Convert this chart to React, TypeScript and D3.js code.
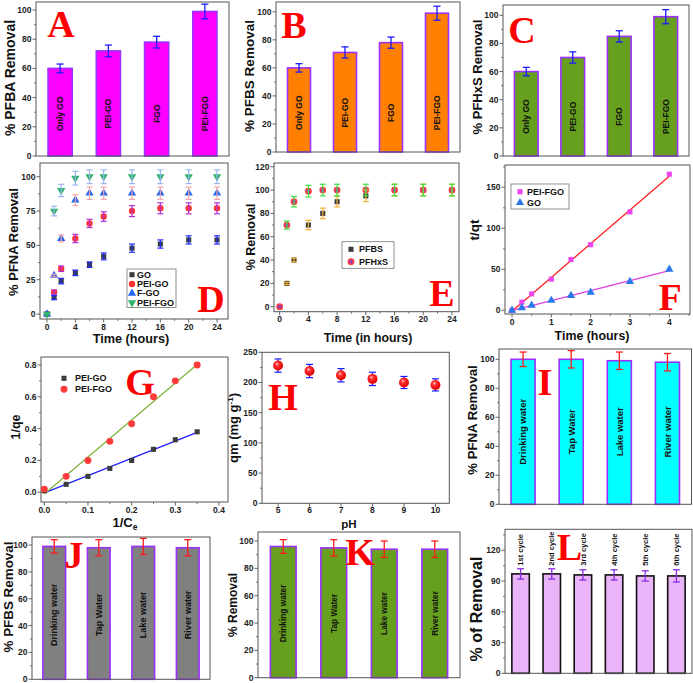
import React from "react";
import * as d3 from "d3";

const SANS = "'Liberation Sans', Arial, Helvetica, sans-serif";
const SERIF = "'Liberation Serif', 'Times New Roman', Times, serif";
const AXIS = "#555555";

// ---------- Panels A–C ----------
const adsorbents = ["Only GO", "PEI-GO", "FGO", "PEI-FGO"];
const pfbaRemoval = [60, 72, 78, 99];
const pfbaError = [3, 4, 4, 5];
const pfbsRemoval = [60, 71, 78, 99];
const pfbsError = [3, 4, 4, 5];
const pfhxsRemoval = [60, 70, 85, 99];
const pfhxsError = [3, 4, 4, 5];

// ---------- Panel D ----------
const timeHours = [0, 1, 2, 4, 6, 8, 12, 16, 20, 24];
const dGO = [0, 12, 24, 30, 36, 42, 48, 51, 54, 54];
const dGOErr = [0, 1.5, 2, 2, 2, 2.5, 3, 3, 3, 3];
const dPEIGO = [0, 16, 33, 55, 66, 71, 75, 77, 77, 77];
const dPEIGOErr = [0, 1.5, 2, 3, 3, 3.5, 4, 4, 4, 4];
const dFGO = [0, 28, 55, 83, 88, 88, 88, 88, 88, 88];
const dFGOErr = [0, 1, 2.5, 4, 4.5, 4.5, 4.5, 4.5, 4.5, 4.5];
const dPEIFGO = [0, 75, 90, 99, 100, 100, 100, 100, 100, 100];
const dPEIFGOErr = [0, 3.5, 4.5, 5, 5, 5, 5, 5, 5, 5];

// ---------- Panel E ----------
const ePFBS = [0, 20, 40, 70, 80, 90, 95, 100, 100, 100];
const ePFBSErr = [0, 1, 1.5, 4, 4.5, 4.5, 5, 5, 5, 5];
const ePFHxS = [0, 70, 90, 99, 100, 100, 100, 100, 100, 100];
const ePFHxSErr = [0, 3.5, 4.5, 5, 5, 5, 5, 5, 5, 5];

// ---------- Panel F ----------
const timeF = [0, 0.25, 0.5, 1, 1.5, 2, 3, 4];
const fPEIFGO = [0, 10, 20, 38, 62, 80, 120, 166];
const fGO = [0, 3, 6, 12, 18, 22, 35, 50];

// ---------- Panel G ----------
const invCe = [0, 0.05, 0.1, 0.15, 0.2, 0.25, 0.3, 0.35];
const gPEIGO = [0.01, 0.05, 0.1, 0.15, 0.2, 0.27, 0.33, 0.38];
const gPEIFGO = [0.02, 0.1, 0.2, 0.32, 0.43, 0.6, 0.7, 0.8];

// ---------- Panel H ----------
const pH = [5, 6, 7, 8, 9, 10];
const qm = [228, 219, 212, 206, 200, 196];
const qmErr = [11, 11, 11, 11, 10, 10];

// ---------- Panels I–K ----------
const waters = ["Drinking water", "Tap Water", "Lake water", "River water"];
const iPFNA = [100, 100, 99, 98];
const iPFNAErr = [5, 6, 6, 6];
const jPFBS = [99, 98, 99, 98];
const jPFBSErr = [5, 6, 6, 6];
const kRemoval = [96, 95, 94, 94];
const kRemovalErr = [5, 6, 6, 6];

// ---------- Panel L ----------
const cycles = ["1st cycle", "2nd cycle", "3rd cycle", "4th cycle", "5th cycle", "6th cycle"];
const lRemoval = [97, 97, 96, 96, 95, 95];
const lRemovalErr = [5, 5, 5, 5, 5, 6];

type Box = { x0: number; y0: number; x1: number; y1: number };

function Frame({ b }: { b: Box }) {
  return (
    <rect x={b.x0} y={b.y0} width={b.x1 - b.x0} height={b.y1 - b.y0} fill="none" stroke={AXIS} strokeWidth={1} />
  );
}

function YAxis({ y, x0, major, minor, fmt, fs = 8.5 }: any) {
  return (
    <g>
      {minor.map((v: number, i: number) => (
        <line key={"m" + i} x1={x0} x2={x0 - 2} y1={y(v)} y2={y(v)} stroke={AXIS} strokeWidth={0.8} />
      ))}
      {major.map((v: number, i: number) => (
        <g key={"M" + i}>
          <line x1={x0} x2={x0 - 3.5} y1={y(v)} y2={y(v)} stroke={AXIS} strokeWidth={0.9} />
          <text x={x0 - 4.5} y={y(v)} dy="0.35em" textAnchor="end" fontSize={fs} fontWeight="bold" fontFamily={SANS} fill="#222">
            {fmt(v)}
          </text>
        </g>
      ))}
    </g>
  );
}

function XAxis({ x, y1, major, minor, fmt, fs = 8.5, off = 10.5 }: any) {
  return (
    <g>
      {minor.map((v: number, i: number) => (
        <line key={"m" + i} x1={x(v)} x2={x(v)} y1={y1} y2={y1 + 2} stroke={AXIS} strokeWidth={0.8} />
      ))}
      {major.map((v: number, i: number) => (
        <g key={"M" + i}>
          <line x1={x(v)} x2={x(v)} y1={y1} y2={y1 + 3.5} stroke={AXIS} strokeWidth={0.9} />
          <text x={x(v)} y={y1 + off} textAnchor="middle" fontSize={fs} fontWeight="bold" fontFamily={SANS} fill="#222">
            {fmt(v)}
          </text>
        </g>
      ))}
    </g>
  );
}

function ErrBar({ cx, yTop, yBot, w, color, sw = 1.2 }: any) {
  return (
    <g stroke={color} strokeWidth={sw}>
      <line x1={cx} x2={cx} y1={yTop} y2={yBot} />
      <line x1={cx - w} x2={cx + w} y1={yTop} y2={yTop} />
      <line x1={cx - w} x2={cx + w} y1={yBot} y2={yBot} />
    </g>
  );
}

function Letter({ t, x, y, fs = 38 }: any) {
  return (
    <text x={x} y={y} textAnchor="middle" fontFamily={SERIF} fontWeight="bold" fontSize={fs} fill="#ff0000">
      {t}
    </text>
  );
}

function YTitle({ x, y, fs, children }: any) {
  return (
    <text transform={`translate(${x},${y}) rotate(-90)`} textAnchor="middle" fontFamily={SANS} fontWeight="bold" fontSize={fs} fill="#111">
      {children}
    </text>
  );
}

function XTitle({ x, y, fs, children }: any) {
  return (
    <text x={x} y={y} textAnchor="middle" fontFamily={SANS} fontWeight="bold" fontSize={fs} fill="#111">
      {children}
    </text>
  );
}

function BarPanel(p: any) {
  const { b, cats, vals, errs, yMax, major, minor, fill, stroke, errColor, pad } = p;
  const x = d3.scaleBand<string>().domain(cats).range([b.x0, b.x1]).paddingInner(pad).paddingOuter(pad / 2);
  const y = d3.scaleLinear().domain([0, yMax]).range([b.y1, b.y0]);
  const bw = x.bandwidth();
  return (
    <g>
      {cats.map((c: string, i: number) => (
        <rect key={"b" + i} x={x(c)} y={y(vals[i])} width={bw} height={y(0) - y(vals[i])} fill={fill} stroke={stroke} strokeWidth={1.6} />
      ))}
      {cats.map((c: string, i: number) => {
        const cx = (x(c) as number) + bw / 2;
        return (
          <text key={"t" + i} transform={`translate(${cx},${y(p.labelAt)}) rotate(-90)`} dy="0.35em"
            textAnchor={p.labelMode === "above" ? "start" : "middle"} fontFamily={SANS} fontWeight="bold" fontSize={p.labelFs} fill="#111">
            {c}
          </text>
        );
      })}
      {cats.map((c: string, i: number) => (
        <ErrBar key={"e" + i} cx={(x(c) as number) + bw / 2} yTop={y(vals[i] + errs[i])} yBot={y(vals[i] - errs[i])} w={3.5} color={errColor} sw={1.3} />
      ))}
      <Frame b={b} />
      <YAxis y={y} x0={b.x0} major={major} minor={minor} fmt={(v: number) => String(v)} />
    </g>
  );
}

function Marker({ shape, size, fill, center, x, y, gradId }: any) {
  if (shape === "sphere") {
    return <circle cx={x} cy={y} r={size} fill={`url(#${gradId})`} />;
  }
  const t =
    shape === "square" ? d3.symbolSquare : shape === "circle" ? d3.symbolCircle : d3.symbolTriangle;
  const path = d3.symbol().type(t).size(size)() as string;
  const rot = shape === "triDown" ? " rotate(180)" : "";
  return (
    <g transform={`translate(${x},${y})${rot}`}>
      <path d={path} fill={fill} />
      {center ? <rect x={-1.6} y={-1.6} width={3.2} height={3.2} fill={center} /> : null}
    </g>
  );
}

function linFit(xs: number[], ys: number[]) {
  const mx = d3.mean(xs) as number;
  const my = d3.mean(ys) as number;
  const sxy = d3.sum(xs, (v, i) => (v - mx) * (ys[i] - my));
  const sxx = d3.sum(xs, (v) => (v - mx) * (v - mx));
  const m = sxy / sxx;
  return [m, my - m * mx];
}

function ScatterPanel(p: any) {
  const { b, xDom, yDom, series } = p;
  const x = d3.scaleLinear().domain(xDom).range([b.x0, b.x1]);
  const y = d3.scaleLinear().domain(yDom).range([b.y1, b.y0]);
  const errEls = series.flatMap((s: any, si: number) =>
    s.errs
      ? s.xs.map((xv: number, i: number) =>
          s.errs[i] > 0 ? (
            <ErrBar key={`e${si}-${i}`} cx={x(xv)} yTop={y(s.ys[i] + s.errs[i])} yBot={y(s.ys[i] - s.errs[i])} w={p.capW} color={s.errColor} sw={1.2} />
          ) : null
        )
      : []
  );
  const markEls = series.flatMap((s: any, si: number) =>
    s.xs.map((xv: number, i: number) => (
      <Marker key={`m${si}-${i}`} shape={s.shape} size={s.size} fill={s.fill} center={s.center} x={x(xv)} y={y(s.ys[i])} gradId={p.gradId} />
    ))
  );
  const fitEls = series
    .filter((s: any) => s.fit)
    .map((s: any, i: number) => {
      const [m, c] = linFit(s.xs, s.ys);
      const xa = d3.min(s.xs) as number;
      const xb = d3.max(s.xs) as number;
      return <line key={"f" + i} x1={x(xa)} y1={y(m * xa + c)} x2={x(xb)} y2={y(m * xb + c)} stroke={s.fit} strokeWidth={1.3} />;
    });
  const lg = p.legend;
  return (
    <g>
      <Frame b={b} />
      <XAxis x={x} y1={b.y1} major={p.xMajor} minor={p.xMinor} fmt={p.xFmt} off={p.xOff ?? 10.5} />
      <YAxis y={y} x0={b.x0} major={p.yMajor} minor={p.yMinor} fmt={p.yFmt} />
      {fitEls}
      {p.errOnTop ? null : errEls}
      {markEls}
      {p.errOnTop ? errEls : null}
      {lg ? (
        <g>
          {lg.box ? <rect x={lg.box[0]} y={lg.box[1]} width={lg.box[2] - lg.box[0]} height={lg.box[3] - lg.box[1]} fill="white" stroke="#777" strokeWidth={0.8} /> : null}
          {series.map((s: any, i: number) => (
            <g key={"l" + i}>
              <Marker shape={s.shape} size={s.size} fill={s.fill} center={s.center} x={lg.mx} y={lg.ys[i]} gradId={p.gradId} />
              <text x={lg.tx} y={lg.ys[i]} dy="0.35em" fontFamily={SANS} fontWeight="bold" fontSize={9} fill="#111">
                {s.label}
              </text>
            </g>
          ))}
        </g>
      ) : null}
    </g>
  );
}

const fmtInt = (v: number) => String(v);
const fmt1 = d3.format(".1f");

export default function App() {
  return (
    <svg width={693} height={683} style={{ position: "absolute", left: 0, top: 0, background: "#fff" }} xmlns="http://www.w3.org/2000/svg">
      <defs>
        <radialGradient id="sph" cx="40%" cy="35%" r="65%">
          <stop offset="0%" stopColor="#ffd0d0" />
          <stop offset="30%" stopColor="#ff3030" />
          <stop offset="100%" stopColor="#e00000" />
        </radialGradient>
      </defs>
      <rect x={0} y={0} width={693} height={683} fill="#fff" />

      {/* A */}
      <BarPanel b={{ x0: 36, y0: 2, x1: 229, y1: 156 }} cats={adsorbents} vals={pfbaRemoval} errs={pfbaError} yMax={105.5}
        major={d3.range(0, 101, 20)} minor={d3.range(10, 101, 20)} fill="#ff00ff" stroke="#9b30ff" errColor="#1a1aff" pad={0.5}
        labelAt={29} labelFs={8.5} />
      <YTitle x={15} y={78} fs={14}>% PFBA Removal</YTitle>
      <Letter t="A" x={61} y={37} />

      {/* B */}
      <BarPanel b={{ x0: 276, y0: 2, x1: 460, y1: 152 }} cats={adsorbents} vals={pfbsRemoval} errs={pfbsError} yMax={107}
        major={d3.range(0, 101, 20)} minor={d3.range(10, 101, 20)} fill="#ff8000" stroke="#9b30ff" errColor="#1a1aff" pad={0.5}
        labelAt={28} labelFs={8.5} />
      <YTitle x={254} y={76} fs={13.5}>% PFBS Removal</YTitle>
      <Letter t="B" x={294} y={38} />

      {/* C */}
      <BarPanel b={{ x0: 503, y0: 5, x1: 689, y1: 156 }} cats={adsorbents} vals={pfhxsRemoval} errs={pfhxsError} yMax={107.3}
        major={d3.range(0, 101, 20)} minor={d3.range(10, 101, 20)} fill="#66a01e" stroke="#9b30ff" errColor="#1a1aff" pad={0.49}
        labelAt={28} labelFs={8.5} />
      <YTitle x={482} y={77} fs={13}>% PFHxS Removal</YTitle>
      <Letter t="C" x={522} y={43} />

      {/* D */}
      <ScatterPanel b={{ x0: 40, y0: 163, x1: 228, y1: 319 }} xDom={[-0.99, 25.55]} yDom={[-3.6, 110]}
        xMajor={d3.range(0, 25, 4)} xMinor={d3.range(2, 25, 4)} yMajor={d3.range(0, 101, 25)} yMinor={d3.range(12.5, 110, 25)}
        xFmt={fmtInt} yFmt={fmtInt} capW={3} errOnTop={true}
        series={[
          { label: "GO", xs: timeHours, ys: dGO, errs: dGOErr, shape: "square", size: 26, fill: "#3a3a3a", errColor: "#1f2bff" },
          { label: "PEI-GO", xs: timeHours, ys: dPEIGO, errs: dPEIGOErr, shape: "circle", size: 32, fill: "#ff3535", errColor: "#b030d8" },
          { label: "F-GO", xs: timeHours, ys: dFGO, errs: dFGOErr, shape: "triUp", size: 30, fill: "#2566f0", errColor: "#f4a4aa" },
          { label: "PEI-FGO", xs: timeHours, ys: dPEIFGO, errs: dPEIFGOErr, shape: "triDown", size: 30, fill: "#2fb36c", errColor: "#9cb4f4" },
        ]}
        legend={{ box: [127, 269, 176, 307.5], ys: [274.7, 284, 293.3, 302.7], mx: 132, tx: 137 }} />
      <YTitle x={18} y={242} fs={13}>% PFNA Removal</YTitle>
      <XTitle x={131} y={342.5} fs={12.7}>Time (hours)</XTitle>
      <Letter t="D" x={211} y={312} />

      {/* E */}
      <ScatterPanel b={{ x0: 274, y0: 163, x1: 459, y1: 311.7 }} xDom={[-0.79, 24.98]} yDom={[-4.3, 123.2]}
        xMajor={d3.range(0, 25, 4)} xMinor={d3.range(2, 25, 4)} yMajor={d3.range(0, 121, 20)} yMinor={d3.range(10, 121, 20)}
        xFmt={fmtInt} yFmt={fmtInt} capW={3} errOnTop={true}
        series={[
          { label: "PFBS", xs: timeHours, ys: ePFBS, errs: ePFBSErr, shape: "square", size: 26, fill: "#3c3c3c", errColor: "#f2b133" },
          { label: "PFHxS", xs: timeHours, ys: ePFHxS, errs: ePFHxSErr, shape: "circle", size: 36, fill: "#ff3b3b", errColor: "#3ee03e", center: "#9040c0" },
        ]}
        legend={{ box: [342, 241.7, 394, 268.3], ys: [249.3, 261.7], mx: 351, tx: 359 }} />
      <YTitle x={255} y={237} fs={12.5}>% Removal</YTitle>
      <XTitle x={368} y={341.7} fs={12.3}>Time (in hours)</XTitle>
      <Letter t="E" x={442} y={306} />

      {/* F */}
      <ScatterPanel b={{ x0: 505, y0: 165, x1: 690, y1: 314 }} xDom={[-0.178, 4.526]} yDom={[-4.5, 177.2]}
        xMajor={d3.range(0, 5, 1)} xMinor={d3.range(0.5, 4.6, 1)} yMajor={d3.range(0, 151, 50)} yMinor={d3.range(25, 176, 50)}
        xFmt={fmtInt} yFmt={fmtInt} capW={3} errOnTop={false}
        series={[
          { label: "PEI-FGO", xs: timeF, ys: fPEIFGO, shape: "square", size: 26, fill: "#ee44ee", fit: "#ff2020" },
          { label: "GO", xs: timeF, ys: fGO, shape: "triUp", size: 30, fill: "#2a78e8", fit: "#e040e0" },
        ]}
        legend={{ box: [511, 184, 569, 209], ys: [191.7, 202.7], mx: 520, tx: 527 }} />
      <YTitle x={479} y={230} fs={13.5}>t/qt</YTitle>
      <XTitle x={592} y={340} fs={12.4}>Time (hours)</XTitle>
      <Letter t="F" x={670} y={310} />

      {/* G */}
      <ScatterPanel b={{ x0: 41, y0: 357, x1: 228, y1: 502 }} xDom={[-0.0076, 0.4206]} yDom={[-0.061, 0.85]}
        xMajor={d3.range(0, 0.41, 0.1)} xMinor={d3.range(0.05, 0.41, 0.1)} yMajor={d3.range(0, 0.81, 0.2)} yMinor={d3.range(0.1, 0.85, 0.2)}
        xFmt={fmt1} yFmt={fmt1} capW={3} errOnTop={false}
        series={[
          { label: "PEI-GO", xs: invCe, ys: gPEIGO, shape: "square", size: 26, fill: "#3c3c3c", fit: "#2020ff" },
          { label: "PEI-FGO", xs: invCe, ys: gPEIFGO, shape: "circle", size: 38, fill: "#ff3b3b", fit: "#7fb53a" },
        ]}
        legend={{ ys: [378.3, 389.3], mx: 64, tx: 75 }} />
      <YTitle x={20} y={427} fs={12.5}>1/qe</YTitle>
      <XTitle x={125} y={527} fs={13}>
        1/C<tspan fontSize={8.5} dy={3}>e</tspan>
      </XTitle>
      <Letter t="G" x={140} y={395} />

      {/* H */}
      <ScatterPanel b={{ x0: 262, y0: 352.3, x1: 449.3, y1: 503.3 }} xDom={[4.49, 10.44]} yDom={[0, 250]}
        xMajor={d3.range(5, 11, 1)} xMinor={[]} yMajor={d3.range(0, 251, 50)} yMinor={d3.range(25, 250, 50)}
        xFmt={fmtInt} yFmt={fmtInt} capW={3.5} errOnTop={false} gradId="sph" xOff={10}
        series={[{ label: "qm", xs: pH, ys: qm, errs: qmErr, shape: "sphere", size: 5, fill: "#ff2020", errColor: "#1a1aff" }]} />
      <YTitle x={238} y={428} fs={13}>
        qm (mg g<tspan fontSize={8} dy={-5}>-1</tspan><tspan dy={5}>)</tspan>
      </YTitle>
      <XTitle x={349} y={527.5} fs={11.5}>pH</XTitle>
      <Letter t="H" x={283} y={410} />

      {/* I */}
      <BarPanel b={{ x0: 499, y0: 349, x1: 691.5, y1: 504.3 }} cats={waters} vals={iPFNA} errs={iPFNAErr} yMax={107.1}
        major={d3.range(0, 101, 20)} minor={d3.range(10, 101, 20)} fill="#00ffff" stroke="#9b30ff" errColor="#ff1a1a" pad={0.5}
        labelAt={50} labelFs={9.5} />
      <YTitle x={477} y={420} fs={13.2}>% PFNA Removal</YTitle>
      <Letter t="I" x={545} y={395} />

      {/* J */}
      <BarPanel b={{ x0: 32, y0: 537, x1: 210, y1: 679.3 }} cats={waters} vals={jPFBS} errs={jPFBSErr} yMax={106}
        major={d3.range(0, 101, 20)} minor={d3.range(10, 101, 20)} fill="#808080" stroke="#9b30ff" errColor="#ff1a1a" pad={0.49}
        labelAt={48} labelFs={9} />
      <YTitle x={13} y={597} fs={13.4}>% PFBS Removal</YTitle>
      <Letter t="J" x={74} y={568} />

      {/* K */}
      <BarPanel b={{ x0: 258, y0: 532, x1: 460, y1: 677.7 }} cats={waters} vals={kRemoval} errs={kRemovalErr} yMax={106.6}
        major={d3.range(0, 101, 20)} minor={d3.range(10, 101, 20)} fill="#66a01e" stroke="#9b30ff" errColor="#ff1a1a" pad={0.49}
        labelAt={47} labelFs={8.3} />
      <YTitle x={237} y={605} fs={12}>% Removal</YTitle>
      <Letter t="K" x={360} y={565} />

      {/* L */}
      <BarPanel b={{ x0: 505, y0: 529.3, x1: 692, y1: 673.3 }} cats={cycles} vals={lRemoval} errs={lRemovalErr} yMax={140.5}
        major={d3.range(0, 121, 30)} minor={d3.range(15, 136, 30)} fill="#eab4f8" stroke="#111" errColor="#8a2be2" pad={0.44}
        labelMode="above" labelAt={105} labelFs={7.5} />
      <YTitle x={482} y={609} fs={16}>% of Removal</YTitle>
      <Letter t="L" x={569.5} y={560} />
    </svg>
  );
}
